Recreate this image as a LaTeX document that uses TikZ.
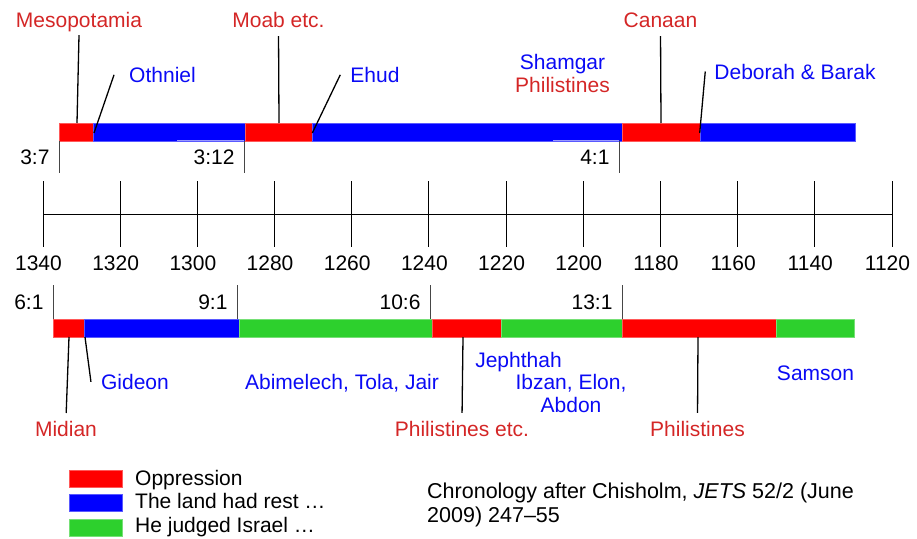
\documentclass[tikz,border=0pt]{standalone}
\usepackage{fontspec}
\setmainfont{Liberation Sans}
\usepackage{xcolor}
\definecolor{OppRed}{RGB}{255,0,0}
\definecolor{RestBlue}{RGB}{0,0,255}
\definecolor{JudgeGreen}{RGB}{45,208,45}
\definecolor{TextRed}{RGB}{212,38,38}
\definecolor{TextBlue}{RGB}{10,10,245}
\definecolor{MarkGray}{RGB}{70,70,70}
\usetikzlibrary{positioning, calc}
\tikzset{
  % Timeline bar segment
  seg/.style={draw=#1!65!white, line width=0.6pt, fill=#1},
  % Legend swatch
  swatch/.style={
    rectangle, draw=#1!65!white, line width=0.6pt, fill=#1,
    minimum width=53pt, minimum height=17pt, inner sep=0pt
  },
  % Text labels
  txt/.style={font=\fontsize{21}{24}\selectfont, inner sep=3.3pt},
  oppname/.style={txt, text=TextRed},
  judgename/.style={txt, text=TextBlue},
  chapref/.style={txt, anchor=east},
  % Lines
  leader/.style={line width=1.3pt, black},
  markline/.style={line width=0.9pt, MarkGray},
  axisline/.style={line width=0.9pt, black},
  tabedge/.style={line width=1.2pt, RestBlue!40!white},
}

\begin{document}
\begin{tikzpicture}[x=1pt, y=-1pt]
  \useasboundingbox (0,0) rectangle (917,538);

  %% Upper bar (Judges 3--5)
  \foreach \a/\b/\c in {59/93/OppRed, 93/245/RestBlue, 245/312/OppRed,
                        312/622/RestBlue, 622/700/OppRed, 700/855/RestBlue}
    \draw[seg=\c] (\a,123) rectangle (\b,141);
  \draw[tabedge] (177,140.5) -- (244,140.5);
  \draw[tabedge] (553,140.5) -- (619,140.5);

  %% Chapter marks, upper
  \foreach \x/\r [count=\i] in {59/3:7, 244/3:12, 619/4:1} {
    \draw[markline] (\x,141) -- (\x,173);
    \node[chapref] (up\i) at (\x-6,157) {\r};
  }

  %% Axis
  \draw[axisline] (43,214) -- (892,214);
  \foreach \yr [count=\i from 0] in {1340,1320,...,1120} {
    \draw[axisline] (43+\i*77.18,181) -- (43+\i*77.18,247);
    \node[txt] (yr\yr) at (38.5+\i*77.18,263) {\yr};
  }

  %% Lower bar (Judges 6--16)
  \foreach \a/\b/\c in {53/84/OppRed, 84/239/RestBlue, 239/432/JudgeGreen,
                        432/501/OppRed, 501/622/JudgeGreen, 622/776/OppRed,
                        776/854/JudgeGreen}
    \draw[seg=\c] (\a,319) rectangle (\b,337);

  %% Chapter marks, lower
  \foreach \x/\r [count=\i] in {53/6:1, 237/9:1, 430/10:6, 622/13:1} {
    \draw[markline] (\x,285) -- (\x,319);
    \node[chapref] (lo\i) at (\x-6,302) {\r};
  }

  %% Upper labels
  \node[oppname, anchor=base] (meso) at (79,27.3) {Mesopotamia};
  \node[oppname, anchor=base] (moab) at (278.5,27.3) {Moab etc.};
  \node[oppname, anchor=base] (canaan) at (660.5,27.3) {Canaan};
  \node[judgename, anchor=base] (othniel) at (162.5,82.3) {Othniel};
  \node[judgename, anchor=base] (ehud) at (375,82.3) {Ehud};
  \node[judgename, anchor=base] (debo) at (795,79) {Deborah \& Barak};
  \node[judgename, anchor=base] (shamgar) at (562.5,69) {Shamgar};
  \node[oppname, anchor=base] (philup) at (562.5,92.7) {Philistines};

  \coordinate (at-meso) at (77,123);
  \coordinate (at-othniel) at (94,133);
  \coordinate (at-moab) at (279,123);
  \coordinate (at-ehud) at (312.3,133);
  \coordinate (at-canaan) at (661,123);
  \coordinate (at-debo) at (699.7,133);

  \draw[leader] (meso.south) -- (at-meso);
  \draw[leader] ([xshift=-11.7pt]othniel.west) -- (at-othniel);
  \draw[leader, shorten <=5pt] (moab.south) -- (at-moab);
  \draw[leader] ([xshift=-6.7pt]ehud.west) -- (at-ehud);
  \draw[leader, shorten <=5pt] (canaan.south) -- (at-canaan);
  \draw[leader] ([xshift=-5.7pt]debo.west) -- (at-debo);

  %% Lower labels
  \node[oppname, anchor=base] (midian) at (66,436.7) {Midian};
  \node[judgename, anchor=base] (gideon) at (135,389.3) {Gideon};
  \node[judgename, anchor=base] (abim) at (342,389.3) {Abimelech, Tola, Jair};
  \node[oppname, anchor=base] (philetc) at (462,436.7) {Philistines etc.};
  \node[judgename, anchor=base] (jephthah) at (518.5,367.3) {Jephthah};
  \node[judgename, anchor=north, align=center, font=\fontsize{21}{23}\selectfont]
    (ibzan) at (571,371) {Ibzan, Elon,\\Abdon};
  \node[judgename, anchor=base] (samson) at (815.5,380.7) {Samson};
  \node[oppname, anchor=base] (phildown) at (697.5,436.7) {Philistines};

  \coordinate (at-midian) at (69,337);
  \coordinate (at-gideon) at (85,337);
  \coordinate (at-philetc) at (463,337);
  \coordinate (at-phildown) at (698,337);

  \draw[leader, shorten >=5pt] (at-midian) -- (midian.north);
  \draw[leader] (at-gideon) -- ([xshift=-6.7pt]gideon.west);
  \draw[leader, shorten >=5pt] (at-philetc) -- (philetc.north);
  \draw[leader, shorten >=5pt] (at-phildown) -- (phildown.north);

  %% Legend
  \node[swatch=OppRed] (key-opp) at (95.5,478.5) {};
  \node[swatch=RestBlue] (key-rest) at (95.5,503) {};
  \node[swatch=JudgeGreen] (key-judge) at (95.5,528) {};
  \node[txt, anchor=base west] (keytxt-opp) at (131.7,485) {Oppression};
  \node[txt, anchor=base west] (keytxt-rest) at (131.7,508.5) {The land had rest …};
  \node[txt, anchor=base west] (keytxt-judge) at (131.7,532) {He judged Israel …};

  %% Source
  \node[txt, anchor=north west, align=left, font=\fontsize{21.5}{24}\selectfont]
    (source) at (423.7,479)
    {Chronology after Chisholm, \textit{JETS} 52/2 (June\\2009) 247--55};

\end{tikzpicture}
\end{document}
